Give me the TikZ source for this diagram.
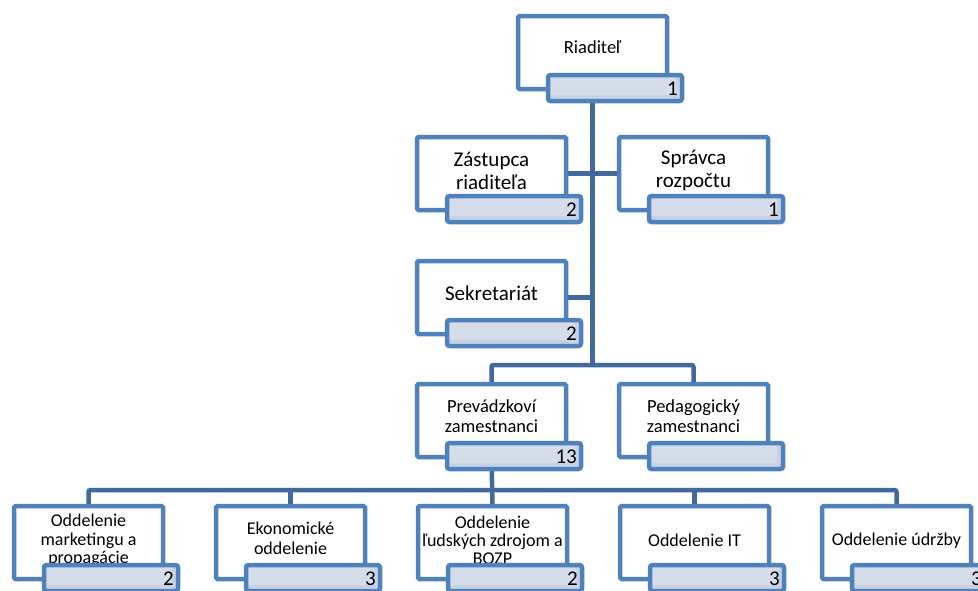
\documentclass[tikz,border=0pt]{standalone}
\usepackage{fontspec}
\setmainfont{Carlito}
\usetikzlibrary{calc,backgrounds}
\definecolor{boxblue}{HTML}{4F81BD}
\definecolor{linkblue}{HTML}{41699D}
\definecolor{numfill}{HTML}{C8D1E3}
\definecolor{numhi}{HTML}{D5DCEA}
\tikzset{
  mainbox/.style={draw=boxblue, line width=4.5pt, fill=white, minimum width=149pt,
    minimum height=73pt, inner sep=0pt, outer sep=0pt, rounded corners=1.5pt, anchor=north west},
  numbox/.style={draw=boxblue, line width=4.5pt, fill=numfill, minimum width=134pt,
    minimum height=26pt, inner sep=0pt, outer sep=0pt, rounded corners=2.5pt, anchor=north west,
    path picture={\fill[numhi] ($(path picture bounding box.north west)+(2pt,-2pt)$)
      rectangle ($(path picture bounding box.south east)+(-6pt,6pt)$);}},
  numtext/.style={anchor=east, inner sep=0pt, font=\fontsize{21}{21}\selectfont},
  unittext/.style={inner sep=0pt, align=center},
  link/.style={draw=linkblue, line width=4.5pt, rounded corners=2pt},
}
% #1 name, #2 x0, #3 y0, #4 font size, #5 leading, #6 text, #7 number, #8 text offset
\newcommand\orgunit[8]{%
  \node[mainbox] (#1) at (#2+2,#3+2) {};
  \node[unittext, font=\fontsize{#4}{#5}\selectfont] (#1x) at ($(#1.center)+(0,#8)$) {#6};
  \node[numbox] (#1n) at ($(#1.north west)+(30,59)$) {};
  \node[numtext] (#1t) at ($(#1n.east)+(-4,1)$) {#7};
}
\begin{document}
\begin{tikzpicture}[x=1pt,y=-1pt]
\useasboundingbox (0,0) rectangle (978,590);
\clip (0,0) rectangle (978,590);

\orgunit{riad}{516}{14}{18.5}{20}{Riaditeľ}{1}{-5}
\orgunit{zast}{415}{135}{21}{23}{Zástupca\\riaditeľa}{2}{-3}
\orgunit{sprav}{617}{135}{21}{23}{Správca\\rozpočtu}{1}{-3}
\orgunit{sekr}{415}{259}{21}{23}{Sekretariát}{2}{-4}
\orgunit{prev}{415}{382}{18.5}{20}{Prevádzkoví\\zamestnanci}{13}{-4}
\orgunit{peda}{617}{382}{18.5}{20}{Pedagogický\\zamestnanci}{}{-4}
\orgunit{ua}{12}{504}{18}{18.3}{Oddelenie\\marketingu a\\propagácie}{2}{-2}
\orgunit{ub}{214}{504}{18}{20}{Ekonomické\\oddelenie}{3}{-4}
\orgunit{uc}{416}{504}{18}{18.3}{Oddelenie\\ľudských zdrojom a\\BOZP}{2}{-2}
\orgunit{ud}{618}{504}{18}{20}{Oddelenie IT}{3}{-2}
\orgunit{ue}{820}{504}{18}{20}{Oddelenie údržby}{3}{-2}

\coordinate (barA) at ($(riad.south)+(0,276)$);
\coordinate (barB) at ($(prev.south)+(0,33)$);

\begin{scope}[on background layer]
  \draw[link] (riad.south) -- (barA);
  \draw[link] (zast.east) -- (zast.east -| riad.south);
  \draw[link] (sprav.west) -- (sprav.west -| riad.south);
  \draw[link] (sekr.east) -- (sekr.east -| riad.south);
  \draw[link] (prev.north) |- (barA) -| (peda.north);
  \draw[link] (prev.south) -- (uc.north);
  \draw[link] (ua.north) |- (barB) -| (ue.north);
  \draw[link] (ub.north) -- (ub.north |- barB);
  \draw[link] (ud.north) -- (ud.north |- barB);
\end{scope}
\end{tikzpicture}
\end{document}
